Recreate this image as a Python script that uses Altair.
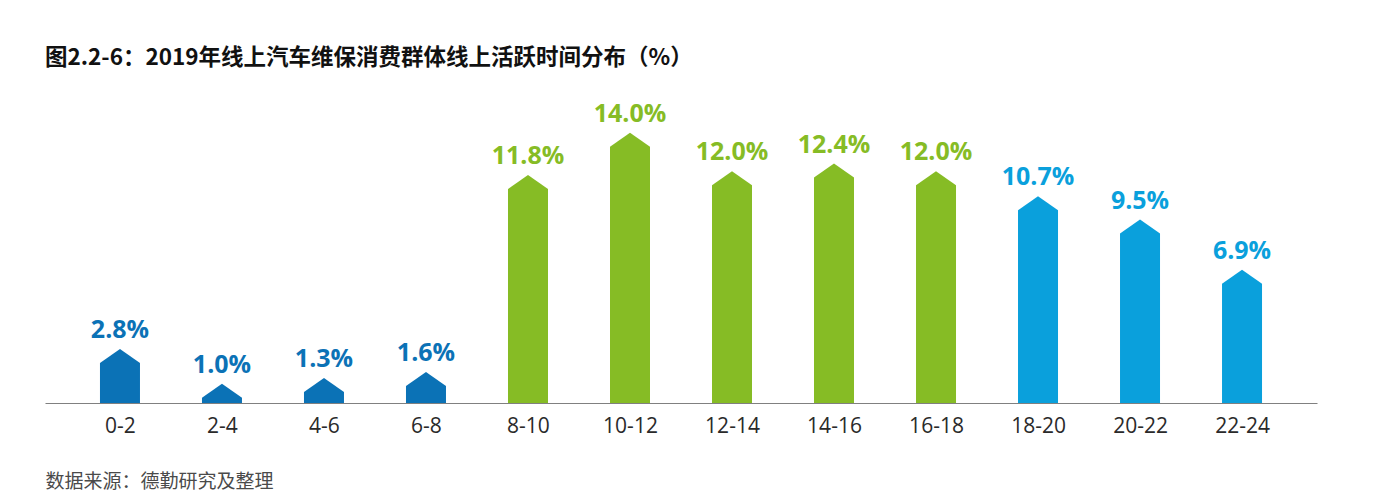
import pandas as pd
import altair as alt

# data
hours = ["0-2", "2-4", "4-6", "6-8", "8-10", "10-12", "12-14", "14-16", "16-18", "18-20", "20-22", "22-24"]
shares = [2.8, 1.0, 1.3, 1.6, 11.8, 14.0, 12.0, 12.4, 12.0, 10.7, 9.5, 6.9]
groups = ["night"] * 4 + ["day"] * 5 + ["evening"] * 3

group_order = ["night", "day", "evening"]
group_colors = ["#0b72b6", "#86bc25", "#0aa0dc"]

df = pd.DataFrame({"hour": hours, "share": shares, "group": groups})

# pentagon "arrow" bar: tip at the value, stem runs far down and is clipped at the baseline
arrow_path = "M-1,0.7L0,0L1,0.7L1,40L-1,40Z"

x_enc = alt.X(
    "hour:N",
    sort=hours,
    scale=alt.Scale(type="point", padding=0.735),
    axis=alt.Axis(
        title="数据来源：德勤研究及整理",
        titleAnchor="start",
        titleAlign="left",
        titleBaseline="alphabetic",
        titleY=84,
        titleFont="Noto Sans CJK SC",
        titleFontSize=19,
        titleFontWeight="normal",
        titleColor="#4a4a4a",
        labelAngle=0,
        labelFont="Open Sans",
        labelFontSize=21,
        labelColor="#2a2a2a",
        labelPadding=12,
        ticks=False,
        domainColor="#808080",
        domainWidth=1.2,
        grid=False,
    ),
)
y_enc = alt.Y("share:Q", scale=alt.Scale(domain=[0, 16], nice=False), axis=None)
color_enc = alt.Color("group:N", scale=alt.Scale(domain=group_order, range=group_colors), legend=None)

base = alt.Chart(df).encode(x=x_enc, y=y_enc, color=color_enc)

arrows = base.mark_point(
    shape=arrow_path, size=1600, filled=True, opacity=1, strokeWidth=0, clip=True
)

labels = base.mark_text(
    dy=-11, baseline="alphabetic", font="Open Sans", fontSize=25, fontWeight="bold"
).transform_calculate(label="format(datum.share, '.1f') + '%'").encode(text="label:N")

chart = (
    alt.layer(arrows, labels)
    .properties(
        width=1272,
        height=309,
        background="white",
        padding={"left": 37, "top": 86, "right": 55, "bottom": 93},
        autosize=alt.AutoSizeParams(type="none"),
        title=alt.TitleParams(
            "图2.2-6：2019年线上汽车维保消费群体线上活跃时间分布（%）",
            anchor="start",
            font="Noto Sans CJK SC",
            fontSize=22.5,
            fontWeight="bold",
            color="#111111",
            baseline="alphabetic",
            offset=7,
        ),
    )
    .configure_view(strokeWidth=0, stroke="transparent")
)

chart.save("out.html", embed_options={"renderer": "svg", "actions": False})
